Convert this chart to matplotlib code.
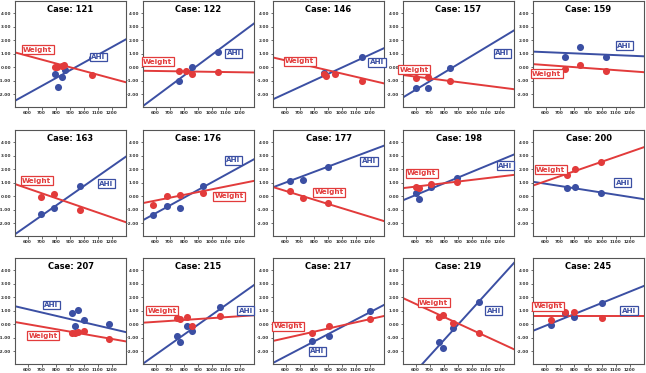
import numpy as np
import matplotlib
matplotlib.use("Agg")
import matplotlib.pyplot as plt

plt.rcParams["axes.unicode_minus"] = False

# ---------------- data ----------------
cases = [121, 122, 146, 157, 159, 163, 176, 177, 198, 200, 207, 215, 217, 219, 245]

ahi_x = [
    [794, 818, 841, 865, 1057],
    [769, 856, 1045],
    [871, 1143],
    [600, 685, 844],
    [740, 847, 1026],
    [694, 786, 975],
    [581, 681, 774, 937],
    [633, 720, 904],
    [600, 623, 708, 895],
    [753, 809, 995],
    [914, 940, 960, 1002, 1177],
    [752, 775, 822, 857, 1060],
    [790, 908, 1200],
    [768, 792, 869, 1053],
    [640, 739, 802, 1002],
]
ahi_y = [
    [-0.47, -1.45, -0.72, -0.23, 0.68],
    [-1.06, -0.02, 1.16],
    [-0.44, 0.74],
    [-1.56, -1.56, -0.07],
    [0.75, 1.48, 0.75],
    [-1.33, -0.89, 0.75],
    [-1.41, -0.76, -0.85, 0.78],
    [1.10, 1.20, 2.15],
    [0.22, -0.20, 0.66, 1.32],
    [0.58, 0.68, 0.24],
    [0.79, -0.17, 1.03, 0.29, 0.00],
    [-0.86, -1.35, -0.10, -0.54, 1.25],
    [-1.23, -0.91, 0.98],
    [-1.35, -1.79, -0.25, 1.67],
    [-0.07, 0.80, 0.54, 1.60],
]
weight_x = [
    [792, 811, 841, 858, 1057],
    [769, 818, 856, 1045],
    [871, 890, 950, 1143],
    [600, 685, 844],
    [740, 847, 1026],
    [694, 786, 975],
    [581, 681, 774, 937],
    [633, 720, 904],
    [600, 623, 708, 895],
    [753, 809, 995],
    [914, 940, 960, 1002, 1177],
    [752, 775, 822, 857, 1060],
    [790, 908, 1200],
    [768, 792, 869, 1053],
    [640, 739, 802, 1002],
]
weight_y = [
    [0.00, 0.00, 0.10, 0.14, -0.55],
    [-0.32, -0.25, -0.49, -0.37],
    [-0.50, -0.69, -0.47, -0.99],
    [-0.77, -0.74, -1.06],
    [-0.15, 0.15, -0.25],
    [-0.05, 0.17, -0.99],
    [-0.63, 0.00, 0.05, 0.22],
    [0.41, -0.17, -0.51],
    [0.71, 0.59, 0.90, 1.02],
    [1.56, 2.02, 2.54],
    [-0.69, -0.69, -0.61, -0.54, -1.13],
    [0.44, 0.37, 0.52, -0.10, 0.61],
    [-0.69, -0.15, 0.37],
    [0.56, 0.66, 0.05, -0.69],
    [0.34, 0.90, 0.90, 0.44],
]
# fitted regression lines: value at x = 900 and slope per unit x
ahi_fit_at900 = [-0.24, 0.14, -0.51, 0.21, 0.98, 0.02, 0.45, 2.18, 1.37, 0.43, 0.38, -0.05, -0.75, -0.05, 1.15]
ahi_fit_slope = [0.00576, 0.00774, 0.00479, 0.00628, -0.00044, 0.00728, 0.00571, 0.0039, 0.00429,
                 -0.00163, -0.00243, 0.00737, 0.00544, 0.01147, 0.00421]
weight_fit_at900 = [0.00, -0.33, -0.23, -1.10, -0.07, -0.50, 0.30, -0.57, 1.08, 2.19, -0.55, 0.38, -0.33, 0.06, 0.61]
weight_fit_slope = [-0.0028, -0.00016, -0.00243, -0.00133, -0.000756, -0.00358, 0.00208, -0.00319, 0.00124,
                    0.0036, -0.00182, 0.000694, 0.00234, -0.0048, 0.0]

xticks = [600, 700, 800, 900, 1000, 1100, 1200]
yticks = [-2, -1, 0, 1, 2, 3, 4]

# ---------------- layout (label positions in data coords) ----------------
weight_label_pos = [(672, 1.3), (615, 0.4), (700, 0.42), (590, -0.2), (607, -0.5),
                    (664, 1.16), (1123, -0.02), (912, 0.3), (642, 1.68), (635, 1.95),
                    (712, -0.86), (647, 0.98), (619, -0.17), (728, 1.6), (616, 1.34)]
ahi_label_pos = [(1104, 0.75), (1155, 1.04), (1250, 0.35), (1216, 1.04), (1161, 1.6),
                 (1159, 0.92), (1153, 2.66), (1193, 2.6), (1239, 2.24), (1148, 0.98),
                 (770, 1.42), (1242, 0.98), (825, -2.0), (1156, 0.98), (1193, 0.98)]

BLUE = "#3b4fa3"
RED = "#e23b3b"
XLIM = (510, 1300)
YLIM = (-2.95, 4.9)

W, H = 646, 373
fig = plt.figure(figsize=(W / 100, H / 100), dpi=100)
col_left = [15, 143, 273, 403, 533]
row_top = [1, 130, 258]
aw, ah = 111, 106

for i, case in enumerate(cases):
    r, c = divmod(i, 5)
    ax = fig.add_axes([col_left[c] / W, 1 - (row_top[r] + ah) / H, aw / W, ah / H])
    ax.set_xlim(*XLIM)
    ax.set_ylim(*YLIM)
    xs = np.array(XLIM, dtype=float)
    ax.plot(xs, ahi_fit_at900[i] + ahi_fit_slope[i] * (xs - 900), color=BLUE, lw=1.4, zorder=2)
    ax.plot(xs, weight_fit_at900[i] + weight_fit_slope[i] * (xs - 900), color=RED, lw=1.4, zorder=2)
    ax.scatter(ahi_x[i], ahi_y[i], s=26, color=BLUE, zorder=3, linewidths=0)
    ax.scatter(weight_x[i], weight_y[i], s=26, color=RED, zorder=3, linewidths=0)
    wx, wy = weight_label_pos[i]
    ax.text(wx, wy, "Weight", color=RED, fontsize=5.2, fontweight="bold", ha="center", va="center",
            zorder=4, bbox=dict(boxstyle="square,pad=0.2", fc="white", ec=RED, lw=0.9))
    axx, axy = ahi_label_pos[i]
    ax.text(axx, axy, "AHI", color=BLUE, fontsize=5.2, fontweight="bold", ha="center", va="center",
            zorder=4, bbox=dict(boxstyle="square,pad=0.2", fc="white", ec=BLUE, lw=0.9))
    ax.text(0.5, 0.965, f"Case: {case}", transform=ax.transAxes, ha="center", va="top",
            fontsize=6, fontweight="bold", color="black")
    ax.set_xticks(xticks)
    ax.set_yticks(yticks)
    ax.set_xticklabels([str(t) for t in xticks], fontsize=3.0, fontweight="bold")
    ax.set_yticklabels([f"{t:.2f}" for t in yticks], fontsize=3.0, fontweight="bold")
    ax.tick_params(length=1.8, width=0.5, pad=1.0, colors="#333333")
    for sp in ax.spines.values():
        sp.set_color("#555555")
        sp.set_linewidth(0.8)

fig.savefig("out.png", dpi=100)
